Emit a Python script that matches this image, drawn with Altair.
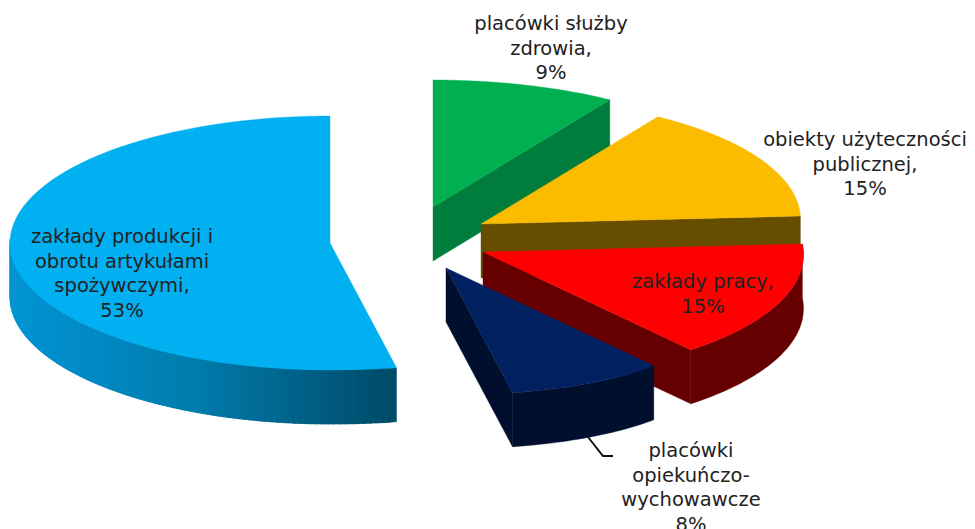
import math
import numpy as np
import altair as alt

# Chart values
labels = [
    ["placówki służby", "zdrowia,", "9%"],
    ["obiekty użyteczności", "publicznej,", "15%"],
    ["zakłady pracy,", "15%"],
    ["placówki", "opiekuńczo-", "wychowawcze", "8%"],
    ["zakłady produkcji i", "obrotu artykułami", "spożywczymi,", "53%"],
]
shares = [9, 15, 15, 8, 53]
top_colors = ["#00B050", "#FBBC00", "#FF0000", "#002060", "#00B0F0"]
face_colors = ["#007C3C", "#664D00", "#660000", "#000F2E", None]
wall_colors = [None, None, "#660000", "#000F2E", "gradient"]

# Layout of the exploded, tilted pie (page pixels)
apex = [(433, 207), (481, 224), (483, 252), (446, 268), (330, 243)]
label_x = [551, 865, 703, 691, 122]
label_y = [24, 140, 282, 451, 237]
line_gap = 24.7
RY, H = 127, 54
OFF = 8
knots_t = [0, 32.4, 86.4, 140.4, 169.2, 180]
knots_r = [330, 330, 320, 326, 355, 360]


def rx(t):
    return 320 if t > 180 else float(np.interp(t, knots_t, knots_r))


def pt(i, t):
    a = math.radians(t)
    return (apex[i][0] + rx(t) * math.sin(a), apex[i][1] - RY * math.cos(a))


def feature(points, color):
    ring = [[float(x), float(y)] for x, y in points]
    ring.append(ring[0])
    return {
        "type": "Feature",
        "geometry": {"type": "Polygon", "coordinates": [ring]},
        "properties": {"color": color},
    }


def blue_wall(x):
    g = np.interp(x, [10, 200, 397], [150, 125, 76])
    b = np.interp(x, [10, 200, 397], [214, 174, 106])
    return f"#00{int(g):02x}{int(b):02x}"


features = []
cum = 0
for i, share in enumerate(shares):
    t0 = cum * 3.6
    t1 = (cum + share) * 3.6
    cum += share
    ts = list(np.arange(t0, t1, 1.0)) + [t1]
    # outer wall
    if wall_colors[i] == "gradient":
        # painted from the far end on, each strip reaching under the next one
        wall_ts = [t for t in ts if t <= 272]
        for k in range(len(wall_ts) - 1, 0, -1):
            a, b = wall_ts[k - 1], wall_ts[k]
            p, q = pt(i, a), pt(i, b)
            near = pt(i, min(b + 1.5, 272))
            col = blue_wall((p[0] + q[0]) / 2)
            features.append(feature([p, q, near, (near[0], near[1] + H), (q[0], q[1] + H), (p[0], p[1] + H)], col))
    elif wall_colors[i]:
        wall_ts = [t for t in ts if t >= 80]
        upper = [pt(i, t) for t in wall_ts]
        lower = [(x, y + H) for x, y in reversed(upper)]
        features.append(feature(upper + lower, wall_colors[i]))
    # cut face
    if face_colors[i]:
        p = pt(i, t1)
        c = apex[i]
        features.append(feature([c, p, (p[0], p[1] + H), (c[0], c[1] + H)], face_colors[i]))
    # top surface
    features.append(feature([apex[i]] + [pt(i, t) for t in ts], top_colors[i]))

text_rows = []
for i, lines in enumerate(labels):
    for j, line in enumerate(lines):
        text_rows.append({"x": label_x[i] - OFF, "y": label_y[i] + j * line_gap - OFF, "t": line})

leader_rows = [
    {"x": 588 - OFF, "y": 437 - OFF, "o": 0},
    {"x": 603 - OFF, "y": 456 - OFF, "o": 1},
    {"x": 613 - OFF, "y": 456 - OFF, "o": 2},
]

shapes = (
    alt.Chart(alt.Data(values=features))
    .mark_geoshape(strokeWidth=0.4)
    .encode(
        color=alt.Color("properties.color:N", scale=None, legend=None),
        stroke=alt.Stroke("properties.color:N", scale=None, legend=None),
    )
    .project(type="identity", scale=1, translate=[-OFF, -OFF])
)

leader = (
    alt.Chart(alt.Data(values=leader_rows))
    .mark_line(color="#111111", strokeWidth=2)
    .encode(
        x=alt.X("x:Q", scale=None, axis=None),
        y=alt.Y("y:Q", scale=None, axis=None),
        order="o:Q",
    )
)

texts = (
    alt.Chart(alt.Data(values=text_rows))
    .mark_text(font="DejaVu Sans", fontSize=19.5, color="#222222", align="center", baseline="middle")
    .encode(
        x=alt.X("x:Q", scale=None, axis=None),
        y=alt.Y("y:Q", scale=None, axis=None),
        text="t:N",
    )
)

chart = (
    alt.layer(leader, shapes, texts)
    .properties(
        width=959,
        height=521,
        padding=0,
        background="white",
        autosize=alt.AutoSizeParams(type="none"),
    )
    .configure_view(stroke=None)
)

chart.save("out.html", embed_options={"renderer": "svg", "actions": False})
